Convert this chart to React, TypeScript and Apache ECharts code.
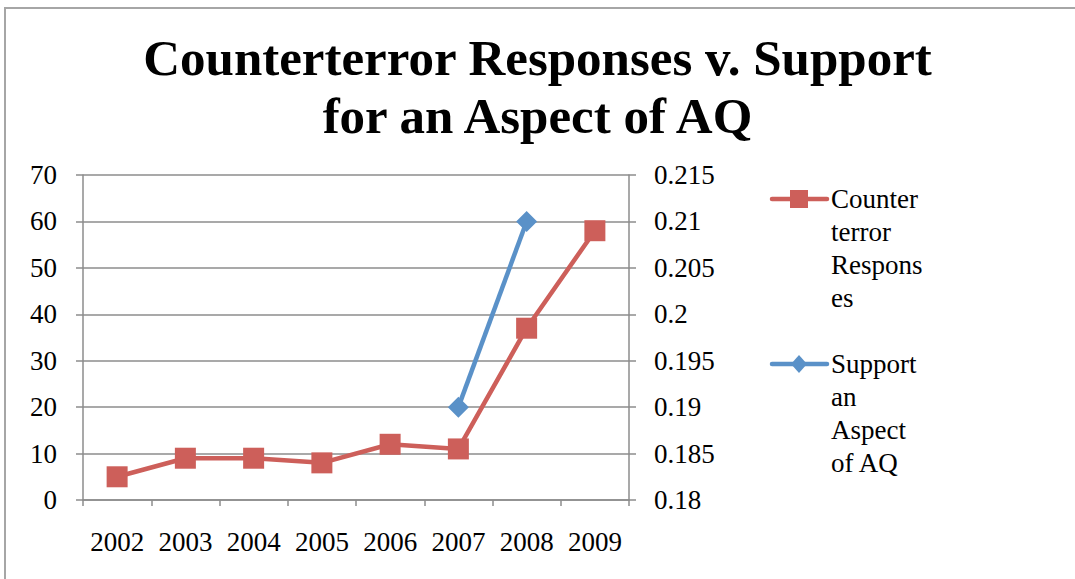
import React, { useEffect, useRef } from "react";
import * as echarts from "echarts";

const categories = ["2002", "2003", "2004", "2005", "2006", "2007", "2008", "2009"];
const counterterrorResponses = [5, 9, 9, 8, 12, 11, 37, 58];
const supportAspectAQ = [null, null, null, null, null, 0.19, 0.21, null];
const rightTickLabels = ["0.18", "0.185", "0.19", "0.195", "0.2", "0.205", "0.21", "0.215"];
const titleText = "Counterterror Responses v. Support\nfor an Aspect of AQ";
const legendRed = "Counter\nterror\nRespons\nes";
const legendBlue = "Support\nan\nAspect\nof AQ";

const RED = "#CD5F5A";
const BLUE = "#5A91C8";
const GRID = "#8C8C8C";
const FONT = "'Liberation Serif', serif";

export default function App() {
  const ref = useRef<HTMLDivElement>(null);
  useEffect(() => {
    if (!ref.current) return;
    const chart = echarts.init(ref.current, null, { renderer: "svg" });
    chart.setOption({
      animation: false,
      backgroundColor: "#ffffff",
      title: {
        text: titleText,
        left: "center",
        top: 24,
        textStyle: {
          fontFamily: FONT,
          fontSize: 51,
          fontWeight: "bold",
          color: "#000",
          lineHeight: 58,
          align: "center",
        },
      },
      grid: { left: 83, right: 446, top: 175, bottom: 79, containLabel: false },
      xAxis: {
        type: "category",
        data: categories,
        boundaryGap: true,
        axisLine: { lineStyle: { color: GRID, width: 1.5 } },
        axisTick: { show: true, interval: 0, length: 6, lineStyle: { color: GRID, width: 1.5 } },
        axisLabel: {
          interval: 0,
          hideOverlap: false,
          margin: 28,
          fontFamily: FONT,
          fontSize: 27,
          color: "#000",
        },
        splitLine: { show: false },
      },
      yAxis: [
        {
          type: "value",
          min: 0,
          max: 70,
          interval: 10,
          axisLine: { show: true, lineStyle: { color: GRID, width: 1.5 } },
          axisTick: { show: true, length: 7, lineStyle: { color: GRID, width: 1.5 } },
          axisLabel: { margin: 26, fontFamily: FONT, fontSize: 27, color: "#000" },
          splitLine: { show: true, lineStyle: { color: GRID, width: 1.5 } },
        },
        {
          type: "value",
          min: 0.18,
          max: 0.215,
          interval: 0.005,
          position: "right",
          axisLine: { show: true, lineStyle: { color: GRID, width: 1.5 } },
          axisTick: { show: true, length: 7, lineStyle: { color: GRID, width: 1.5 } },
          axisLabel: {
            margin: 25,
            fontFamily: FONT,
            fontSize: 27,
            color: "#000",
            formatter: (_v: number, i: number) => rightTickLabels[i] ?? "",
          },
          splitLine: { show: false },
        },
      ],
      series: [
        {
          name: "Counterterror Responses",
          type: "line",
          yAxisIndex: 0,
          data: counterterrorResponses,
          symbol: "rect",
          symbolSize: 21,
          lineStyle: { color: RED, width: 4.5 },
          itemStyle: { color: RED },
        },
        {
          name: "Support an Aspect of AQ",
          type: "line",
          yAxisIndex: 1,
          data: supportAspectAQ,
          symbol: "diamond",
          symbolSize: [21, 21],
          lineStyle: { color: BLUE, width: 4.5 },
          itemStyle: { color: BLUE },
        },
      ],
      graphic: [
        {
          type: "rect",
          shape: { x: 5, y: 8, width: 1200, height: 700 },
          style: { fill: "none", stroke: "#A6A6A6", lineWidth: 2 },
          silent: true,
        },
        {
          type: "line",
          shape: { x1: 772, y1: 199, x2: 827, y2: 199 },
          style: { stroke: RED, lineWidth: 4.5, lineCap: "round" },
        },
        {
          type: "rect",
          shape: { x: 790, y: 190, width: 18, height: 18 },
          style: { fill: RED },
        },
        {
          type: "text",
          x: 831,
          y: 182.5,
          style: {
            text: legendRed,
            fontFamily: FONT,
            fontSize: 27,
            lineHeight: 33,
            fill: "#000",
            verticalAlign: "top",
          },
        },
        {
          type: "line",
          shape: { x1: 772, y1: 364, x2: 827, y2: 364 },
          style: { stroke: BLUE, lineWidth: 4.5, lineCap: "round" },
        },
        {
          type: "polygon",
          shape: { points: [[799, 355], [807, 364], [799, 373], [791, 364]] },
          style: { fill: BLUE },
        },
        {
          type: "text",
          x: 831,
          y: 347.5,
          style: {
            text: legendBlue,
            fontFamily: FONT,
            fontSize: 27,
            lineHeight: 33,
            fill: "#000",
            verticalAlign: "top",
          },
        },
      ],
    });
    return () => chart.dispose();
  }, []);
  return (
    <div
      ref={ref}
      style={{ position: "fixed", left: 0, top: 0, width: 1075, height: 579 }}
    />
  );
}
